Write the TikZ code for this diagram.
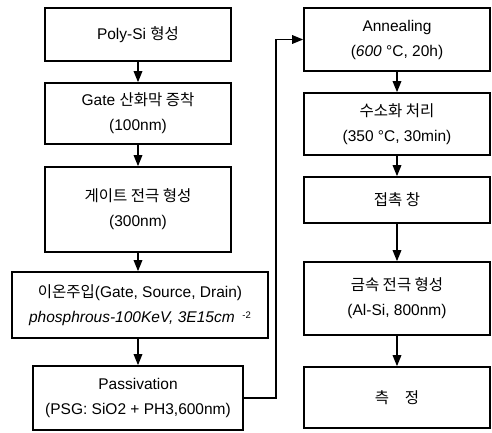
\documentclass[tikz,border=0pt]{standalone}
\usepackage{fontspec}
\setmainfont{Liberation Sans}
\newfontfamily\krfont{Noto Sans CJK KR}
\newcommand{\kr}[1]{{\krfont #1}}
\usetikzlibrary{arrows.meta}
\begin{document}
\begin{tikzpicture}[x=1pt,y=-1pt,
  box/.style={draw=black, line width=1.6pt, align=center, inner sep=0pt,
    font=\fontsize{15.5}{25}\selectfont},
  arr/.style={line width=1.6pt, -{Triangle[length=11pt,width=8.5pt]}}]
\useasboundingbox (0,0) rectangle (492,432);
% left column
\node[box, minimum width=186, minimum height=53] (b1) at (138,34.5) {Poly-Si \kr{형성}};
\node[box, minimum width=186, minimum height=61] (b2) at (138,113.5) {Gate \kr{산화막 증착}\\(100nm)};
\node[box, minimum width=186, minimum height=85] (b3) at (138,209.5) {\kr{게이트 전극 형성}\\(300nm)};
\node[box, minimum width=256, minimum height=66] (b4) at (140,305) {\kr{이온주입}(Gate, Source, Drain)\\\textit{phosphrous-100KeV, 3E15cm}\,\,\,\raisebox{0.5ex}{\fontsize{9.5}{9.5}\selectfont -2}};
\node[box, minimum width=210, minimum height=64] (b5) at (138,398) {Passivation\\(PSG: SiO2 + PH3,600nm)};
% right column
\node[box, minimum width=186, minimum height=63] (r1) at (397,39.5) {Annealing\\(\textit{600} °C, 20h)};
\node[box, minimum width=186, minimum height=62] (r2) at (397,124) {\kr{수소화 처리}\\(350 °C, 30min)};
\node[box, minimum width=186, minimum height=46] (r3) at (397,200) {\kr{접촉 창}};
\node[box, minimum width=186, minimum height=73] (r4) at (397,298.5) {\kr{금속 전극 형성}\\(Al-Si, 800nm)};
\node[box, minimum width=186, minimum height=61] (r5) at (397,397.5) {\kr{측\quad 정}};
% connectors
\draw[arr] (b1.south) -- (b2.north);
\draw[arr] (b2.south) -- (b3.north);
\draw[arr] (b3.south) -- (b3.south |- b4.north);
\draw[arr] (b3.south |- b4.south) -- (b5.north);
\coordinate (c1) at (276,398);
\draw[arr] (b5.east) -- (c1) |- (r1.west);
\draw[arr] (r1.south) -- (r2.north);
\draw[arr] (r2.south) -- (r3.north);
\draw[arr] (r3.south) -- (r4.north);
\draw[arr] (r4.south) -- (r5.north);
\end{tikzpicture}
\end{document}
